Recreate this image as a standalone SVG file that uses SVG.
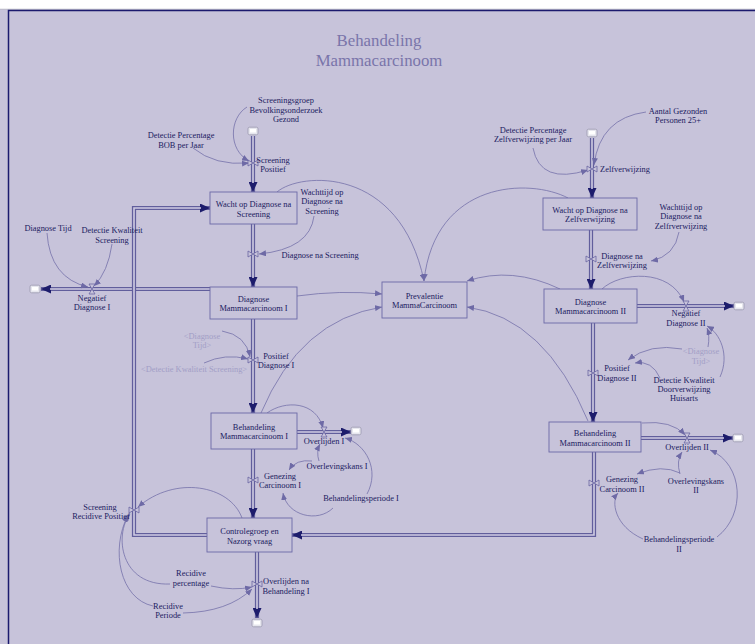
<svg xmlns="http://www.w3.org/2000/svg" width="755" height="644" viewBox="0 0 755 644">
  <style>
    .bg { fill: #C7C3DA; }
    text { font-family: "Liberation Serif", "Times New Roman", serif; font-size: 8.4px; fill: #20205F; text-anchor: middle; }
    .title { font-size: 16.8px; fill: #7A75AA; }
    .shadow { fill: #A29EC6; }
    .stock { fill: #C7C3DA; stroke: #6C69A6; stroke-width: 0.9; }
    .pipe-o { fill: none; stroke: #615E9C; stroke-width: 4.2; }
    .pipe-i { fill: none; stroke: #D0CCE3; stroke-width: 1.6; }
    .link { fill: none; stroke: #7571AA; stroke-width: 0.8; }
    .valve { fill: #C7C3DA; stroke: #6A66A2; stroke-width: 0.8; }
  </style>
  <defs>
    <marker id="pa" markerUnits="userSpaceOnUse" markerWidth="11" markerHeight="9" refX="10" refY="4.5" orient="auto">
      <path d="M0,0 L10,4.5 L0,9 z" fill="#1D1C6C"/>
    </marker>
    <marker id="la" markerUnits="userSpaceOnUse" markerWidth="8" markerHeight="6" refX="7" refY="3" orient="auto">
      <path d="M0,0 L7,3 L0,6 z" fill="#6E6AA6"/>
    </marker>
    <!-- valve on a vertical pipe: triangles meeting left/right -->
    <path id="vv" class="valve" d="M-5,-3 L5,3 L5,-3 L-5,3 Z"/>
    <!-- valve on a horizontal pipe: hourglass -->
    <path id="vh" class="valve" d="M-3,-5 L3,5 L-3,5 L3,-5 Z"/>
    <g id="cloud">
      <rect x="-5" y="-3.8" width="10" height="7.6" rx="1.6" fill="#E6E6EE" stroke="#9A98AE" stroke-width="0.8"/>
      <rect x="-3" y="-2" width="6" height="3.5" fill="#FFFFFF"/>
    </g>
  </defs>

  <!-- canvas -->
  <rect class="bg" x="0" y="0" width="755" height="644"/>
  <rect x="0" y="0" width="755" height="9" fill="#FFFFFF"/>
  <line x1="0" y1="9.2" x2="755" y2="9.2" stroke="#B8B8C4" stroke-width="0.8"/>
  <path d="M8.5,644 V10.5 H755" fill="none" stroke="#1B1A6E" stroke-width="1.5"/>

  <g id="title">
    <text class="title" x="379" y="46">Behandeling</text>
    <text class="title" x="379" y="66">Mammacarcinoom</text>
  </g>

  <g id="connectors">
    <!-- flow pipes -->
    <g id="pipes">
      <path class="pipe-o" d="M253,136 V192" marker-end="url(#pa)"/>
      <path class="pipe-i" d="M253,136 V183"/>
      <path class="pipe-o" d="M253,224 V287" marker-end="url(#pa)"/>
      <path class="pipe-i" d="M253,224 V278"/>
      <path class="pipe-o" d="M210,289 H41" marker-end="url(#pa)"/>
      <path class="pipe-i" d="M210,289 H50"/>
      <path class="pipe-o" d="M253,319 V413" marker-end="url(#pa)"/>
      <path class="pipe-i" d="M253,319 V404"/>
      <path class="pipe-o" d="M297,432 H351" marker-end="url(#pa)"/>
      <path class="pipe-i" d="M297,432 H342"/>
      <path class="pipe-o" d="M253,449 V518" marker-end="url(#pa)"/>
      <path class="pipe-i" d="M253,449 V509"/>
      <path class="pipe-o" d="M257,552 V618" marker-end="url(#pa)"/>
      <path class="pipe-i" d="M257,552 V609"/>
      <path class="pipe-o" d="M207,535 H134 V208 H210" marker-end="url(#pa)"/>
      <path class="pipe-i" d="M207,535 H134 V208 H201"/>
      <path class="pipe-o" d="M592,138 V198" marker-end="url(#pa)"/>
      <path class="pipe-i" d="M592,138 V189"/>
      <path class="pipe-o" d="M591,230 V289" marker-end="url(#pa)"/>
      <path class="pipe-i" d="M591,230 V280"/>
      <path class="pipe-o" d="M637,306 H734" marker-end="url(#pa)"/>
      <path class="pipe-i" d="M637,306 H725"/>
      <path class="pipe-o" d="M593,323 V422" marker-end="url(#pa)"/>
      <path class="pipe-i" d="M593,323 V413"/>
      <path class="pipe-o" d="M641,438 H733" marker-end="url(#pa)"/>
      <path class="pipe-i" d="M641,438 H724"/>
      <path class="pipe-o" d="M594,452 V535 H292" marker-end="url(#pa)"/>
      <path class="pipe-i" d="M594,452 V535 H301"/>
    </g>
    <!-- information links -->
    <g id="links">
      <path class="link" d="M247,107 C229,118 228,150 249,161" marker-end="url(#la)"/>
      <path class="link" d="M193,148 Q215,166 249,163" marker-end="url(#la)"/>
      <path class="link" d="M277,192 C300,172 400,165 424,281" marker-end="url(#la)"/>
      <path class="link" d="M314,216 Q310,249 259,254" marker-end="url(#la)"/>
      <path class="link" d="M47,233 Q50,278 88,287" marker-end="url(#la)"/>
      <path class="link" d="M112,244 Q108,272 94,286" marker-end="url(#la)"/>
      <path class="link" d="M297,296 Q340,290 382,294" marker-end="url(#la)"/>
      <path class="link" d="M261,413 Q300,320 382,307" marker-end="url(#la)"/>
      <path class="link" d="M222,331 Q246,335 250,357" marker-end="url(#la)"/>
      <path class="link" d="M204,363 Q225,353 248,359" marker-end="url(#la)"/>
      <path class="link" d="M267,413 C285,400 316,401 323,428" marker-end="url(#la)"/>
      <path class="link" d="M319,461 Q316,452 320,444" marker-end="url(#la)"/>
      <path class="link" d="M312,461 Q296,459 289,470" marker-end="url(#la)"/>
      <path class="link" d="M367,494 C380,470 366,444 345,438" marker-end="url(#la)"/>
      <path class="link" d="M333,508 C318,523 287,516 283,493" marker-end="url(#la)"/>
      <path class="link" d="M242,518 C230,485 175,475 138,507" marker-end="url(#la)"/>
      <path class="link" d="M211,586 Q234,591 252,587" marker-end="url(#la)"/>
      <path class="link" d="M170,584 C120,586 114,535 130,514" marker-end="url(#la)"/>
      <path class="link" d="M153,606 C120,599 110,550 128,515" marker-end="url(#la)"/>
      <path class="link" d="M183,613 Q228,612 252,589" marker-end="url(#la)"/>
      <path class="link" d="M646,112 Q600,118 594,165" marker-end="url(#la)"/>
      <path class="link" d="M533,148 Q540,185 588,170" marker-end="url(#la)"/>
      <path class="link" d="M568,198 C530,178 435,180 424,281" marker-end="url(#la)"/>
      <path class="link" d="M679,232 Q675,256 651,261" marker-end="url(#la)"/>
      <path class="link" d="M560,289 Q512,266 467,281" marker-end="url(#la)"/>
      <path class="link" d="M588,421 Q545,318 467,307" marker-end="url(#la)"/>
      <path class="link" d="M602,289 C620,272 670,268 684,302" marker-end="url(#la)"/>
      <path class="link" d="M720,377 C730,355 720,333 707,326" marker-end="url(#la)"/>
      <path class="link" d="M708,347 Q710,336 707,328" marker-end="url(#la)"/>
      <path class="link" d="M682,349 Q650,343 628,360" marker-end="url(#la)"/>
      <path class="link" d="M660,378 Q652,360 635,363" marker-end="url(#la)"/>
      <path class="link" d="M642,423 Q672,420 685,435" marker-end="url(#la)"/>
      <path class="link" d="M680,474 Q676,461 682,452" marker-end="url(#la)"/>
      <path class="link" d="M680,473 Q662,464 637,474" marker-end="url(#la)"/>
      <path class="link" d="M717,537 C746,515 744,464 710,450" marker-end="url(#la)"/>
      <path class="link" d="M643,539 C614,526 611,501 618,493" marker-end="url(#la)"/>
    </g>
  </g>

  <!-- sources and sinks -->
  <g id="cloud-screening"><use href="#cloud" x="253" y="131"/></g>
  <g id="cloud-negatief-1"><use href="#cloud" x="35" y="289"/></g>
  <g id="cloud-overlijden-1"><use href="#cloud" x="356" y="431"/></g>
  <g id="cloud-overlijden-na"><use href="#cloud" x="257" y="623"/></g>
  <g id="cloud-zelf"><use href="#cloud" x="592" y="133"/></g>
  <g id="cloud-negatief-2"><use href="#cloud" x="739" y="306"/></g>
  <g id="cloud-overlijden-2"><use href="#cloud" x="738" y="438"/></g>

  <!-- stocks -->
  <g id="wacht-screening">
    <rect class="stock" x="210" y="192" width="87" height="32"/>
    <text x="253.5" y="207">Wacht op Diagnose na</text>
    <text x="253.5" y="217">Screening</text>
  </g>
  <g id="diagnose-1">
    <rect class="stock" x="210" y="287" width="87" height="32"/>
    <text x="253.5" y="302">Diagnose</text>
    <text x="253.5" y="311">Mammacarcinoom I</text>
  </g>
  <g id="behandeling-1">
    <rect class="stock" x="211" y="413" width="86" height="36"/>
    <text x="254" y="430">Behandeling</text>
    <text x="254" y="439">Mammacarcinoom I</text>
  </g>
  <g id="controlegroep">
    <rect class="stock" x="207" y="518" width="85" height="34"/>
    <text x="249.5" y="534">Controlegroep en</text>
    <text x="249.5" y="544">Nazorg vraag</text>
  </g>
  <g id="prevalentie">
    <rect class="stock" x="382" y="282" width="85" height="36"/>
    <text x="424.5" y="299">Prevalentie</text>
    <text x="424.5" y="308">MammaCarcinoom</text>
  </g>
  <g id="wacht-zelf">
    <rect class="stock" x="543" y="198" width="94" height="32"/>
    <text x="590" y="213">Wacht op Diagnose na</text>
    <text x="590" y="222">Zelfverwijzing</text>
  </g>
  <g id="diagnose-2">
    <rect class="stock" x="544" y="289" width="93" height="34"/>
    <text x="590.5" y="305">Diagnose</text>
    <text x="590.5" y="314">Mammacarcinoom II</text>
  </g>
  <g id="behandeling-2">
    <rect class="stock" x="549" y="422" width="92" height="30"/>
    <text x="595" y="436">Behandeling</text>
    <text x="595" y="446">Mammacarcinoom II</text>
  </g>

  <!-- flows -->
  <g id="screening-positief">
    <use href="#vv" x="253" y="163"/>
    <text x="273" y="163">Screening</text>
    <text x="273" y="172">Positief</text>
  </g>
  <g id="diagnose-na-screening">
    <use href="#vv" x="253" y="254"/>
    <text x="320" y="258">Diagnose na Screening</text>
  </g>
  <g id="negatief-diagnose-1">
    <use href="#vh" x="92" y="289"/>
    <text x="92" y="301">Negatief</text>
    <text x="92" y="310">Diagnose I</text>
  </g>
  <g id="positief-diagnose-1">
    <use href="#vv" x="253" y="360"/>
    <text x="276" y="359">Positief</text>
    <text x="276" y="368">Diagnose I</text>
  </g>
  <g id="overlijden-1">
    <use href="#vh" x="324" y="432"/>
    <text x="324" y="444">Overlijden I</text>
  </g>
  <g id="genezing-1">
    <use href="#vv" x="253" y="480"/>
    <text x="280" y="479">Genezing</text>
    <text x="280" y="488">Carcinoom I</text>
  </g>
  <g id="overlijden-na-behandeling">
    <use href="#vv" x="257" y="584"/>
    <text x="286" y="584">Overlijden na</text>
    <text x="286" y="594">Behandeling I</text>
  </g>
  <g id="screening-recidive">
    <use href="#vv" x="134" y="510"/>
    <text x="100" y="510">Screening</text>
    <text x="101" y="519">Recidive Positief</text>
  </g>
  <g id="zelfverwijzing">
    <use href="#vv" x="592" y="169"/>
    <text x="625" y="172">Zelfverwijzing</text>
  </g>
  <g id="diagnose-na-zelf">
    <use href="#vv" x="591" y="259"/>
    <text x="622" y="259">Diagnose na</text>
    <text x="622" y="268">Zelfverwijzing</text>
  </g>
  <g id="negatief-diagnose-2">
    <use href="#vh" x="686" y="306"/>
    <text x="686" y="316">Negatief</text>
    <text x="686" y="326">Diagnose II</text>
  </g>
  <g id="positief-diagnose-2">
    <use href="#vv" x="593" y="373"/>
    <text x="617" y="371">Positief</text>
    <text x="617" y="381">Diagnose II</text>
  </g>
  <g id="overlijden-2">
    <use href="#vh" x="687" y="438"/>
    <text x="687" y="450">Overlijden II</text>
  </g>
  <g id="genezing-2">
    <use href="#vv" x="594" y="483"/>
    <text x="622" y="482">Genezing</text>
    <text x="622" y="492">Carcinoom II</text>
  </g>

  <!-- auxiliaries -->
  <g id="screeningsgroep">
    <text x="286" y="103">Screeningsgroep</text>
    <text x="286" y="112.5">Bevolkingsonderzoek</text>
    <text x="286" y="122">Gezond</text>
  </g>
  <g id="detectie-bob">
    <text x="181" y="138">Detectie Percentage</text>
    <text x="181" y="148">BOB per Jaar</text>
  </g>
  <g id="wachttijd-screening">
    <text x="322" y="195">Wachttijd op</text>
    <text x="322" y="204">Diagnose na</text>
    <text x="322" y="214">Screening</text>
  </g>
  <g id="diagnose-tijd">
    <text x="48" y="231">Diagnose Tijd</text>
  </g>
  <g id="detectie-kwaliteit-screening">
    <text x="112" y="233">Detectie Kwaliteit</text>
    <text x="112" y="243">Screening</text>
  </g>
  <g id="diagnose-tijd-shadow-1">
    <text class="shadow" x="202" y="339">&lt;Diagnose</text>
    <text class="shadow" x="202" y="348">Tijd&gt;</text>
  </g>
  <g id="detectie-kwaliteit-shadow">
    <text class="shadow" x="194" y="372">&lt;Detectie Kwaliteit Screening&gt;</text>
  </g>
  <g id="overlevingskans-1">
    <text x="337" y="469">Overlevingskans I</text>
  </g>
  <g id="behandelingsperiode-1">
    <text x="361" y="501">Behandelingsperiode I</text>
  </g>
  <g id="recidive-percentage">
    <text x="191" y="576">Recidive</text>
    <text x="191" y="586">percentage</text>
  </g>
  <g id="recidive-periode">
    <text x="168" y="609">Recidive</text>
    <text x="168" y="618">Periode</text>
  </g>
  <g id="detectie-zelf">
    <text x="533" y="133">Detectie Percentage</text>
    <text x="533" y="142">Zelfverwijzing per Jaar</text>
  </g>
  <g id="aantal-gezonden">
    <text x="678" y="114">Aantal Gezonden</text>
    <text x="678" y="123">Personen 25+</text>
  </g>
  <g id="wachttijd-zelf">
    <text x="681" y="210">Wachttijd op</text>
    <text x="681" y="219">Diagnose na</text>
    <text x="681" y="229">Zelfrverwijzing</text>
  </g>
  <g id="diagnose-tijd-shadow-2">
    <text class="shadow" x="701" y="354">&lt;Diagnose</text>
    <text class="shadow" x="701" y="364">Tijd&gt;</text>
  </g>
  <g id="detectie-kwaliteit-huisarts">
    <text x="684" y="383">Detectie Kwaliteit</text>
    <text x="684" y="392">Doorverwijzing</text>
    <text x="684" y="401">Huisarts</text>
  </g>
  <g id="overlevingskans-2">
    <text x="696" y="484">Overlevingskans</text>
    <text x="696" y="493">II</text>
  </g>
  <g id="behandelingsperiode-2">
    <text x="679" y="542">Behandelingsperiode</text>
    <text x="679" y="552">II</text>
  </g>
</svg>
